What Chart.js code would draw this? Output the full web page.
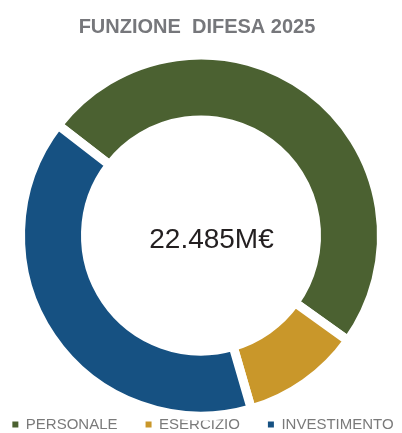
<!DOCTYPE html>
<html>
<head>
<meta charset="utf-8">
<style>
  html, body { margin: 0; padding: 0; background: #ffffff; }
  #wrap { position: relative; width: 402px; height: 433px; }
</style>
<script src="https://cdn.jsdelivr.net/npm/chart.js@4.4.1/dist/chart.umd.min.js"></script>
</head>
<body>
<div id="wrap"><canvas id="chart" width="402" height="433"></canvas></div>
<script>
// Funzione Difesa 2025, milioni di euro
const categories = ['PERSONALE', 'ESERCIZIO', 'INVESTIMENTO'];
const values = [11110, 2390, 8985];
const colors = ['#4b6131', '#c9972a', '#165182'];
const titleText = 'FUNZIONE  DIFESA 2025';
const centerLabel = '22.485M€';

const FONT = '"Liberation Sans", Arial, Helvetica, sans-serif';

// Title and total in the hole, drawn as canvas text
const textPlugin = {
  id: 'textPlugin',
  afterDraw(chart) {
    const ctx = chart.ctx;
    const arc = chart.getDatasetMeta(0).data[0];
    ctx.save();
    ctx.textAlign = 'center';
    ctx.textBaseline = 'alphabetic';
    ctx.fillStyle = '#76777b';
    ctx.font = 'bold 20px ' + FONT;
    ctx.fillText(titleText, 197, 33);
    ctx.fillStyle = '#231f20';
    ctx.font = '28px ' + FONT;
    ctx.fillText(centerLabel, arc.x + 10.5, arc.y + 12.5);
    ctx.restore();
  }
};

const defaultLabels = Chart.overrides.doughnut.plugins.legend.labels.generateLabels;

new Chart(document.getElementById('chart'), {
  type: 'doughnut',
  data: {
    labels: categories,
    datasets: [{
      data: values,
      backgroundColor: colors,
      borderColor: '#ffffff',
      borderWidth: 9,
      hoverOffset: 0,
      clip: false
    }]
  },
  options: {
    responsive: false,
    animation: false,
    rotation: -52.3,
    radius: 180.5,
    cutout: '64%',
    // wide side margins give the legend room for one row
    layout: { padding: { top: 82, left: -20, right: -24, bottom: -9 } },
    plugins: {
      title: { display: false },
      tooltip: { enabled: false },
      legend: {
        position: 'bottom',
        labels: {
          boxWidth: 6,
          boxHeight: 6,
          padding: 28,
          color: '#7a7a7a',
          font: { family: FONT, size: 15 },
          // solid swatches without the white segment border
          generateLabels(chart) {
            return defaultLabels(chart).map(item => Object.assign(item, {
              lineWidth: 0,
              strokeStyle: item.fillStyle
            }));
          }
        }
      }
    }
  },
  plugins: [textPlugin]
});
</script>
</body>
</html>
